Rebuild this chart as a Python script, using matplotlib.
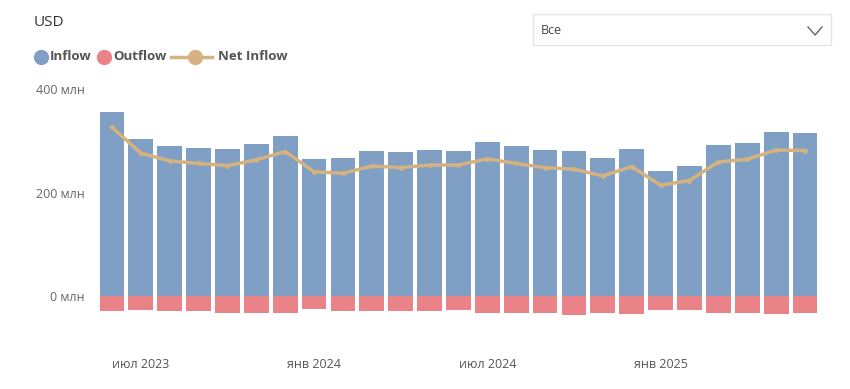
import matplotlib.pyplot as plt
from matplotlib.lines import Line2D
from matplotlib.patches import Rectangle
import numpy as np

# monthly data, jun 2023 .. jun 2025, millions USD
months = ["июн 2023", "июл 2023", "авг 2023", "сен 2023", "окт 2023", "ноя 2023",
          "дек 2023", "янв 2024", "фев 2024", "мар 2024", "апр 2024", "май 2024",
          "июн 2024", "июл 2024", "авг 2024", "сен 2024", "окт 2024", "ноя 2024",
          "дек 2024", "янв 2025", "фев 2025", "мар 2025", "апр 2025", "май 2025",
          "июн 2025"]
inflow = [356, 304, 290, 286, 285, 295, 311, 265, 267, 281, 279, 284, 281,
          298, 291, 284, 281, 267, 285, 242, 252, 292, 296, 318, 316]
outflow = [28, 27, 29, 28, 31, 31, 31, 25, 28, 28, 29, 29, 27,
           32, 31, 32, 35, 32, 34, 27, 27, 31, 31, 34, 32]
net_inflow = [327, 277, 262, 257, 253, 264, 280, 241, 238, 252, 249, 254, 254,
              266, 257, 249, 246, 233, 251, 215, 224, 260, 265, 283, 282]
tick_labels = ["июл 2023", "янв 2024", "июл 2024", "янв 2025"]

c_in = "#7f9fc4"
c_out = "#ea8387"
c_net = "#d5b27f"

plt.rcParams['font.family'] = ['Open Sans', 'DejaVu Sans']

fig = plt.figure(figsize=(8.5, 3.89), dpi=100)
ax = fig.add_axes([0.1147, 0.158, 0.964 - 0.1147, 0.770 - 0.158])

x = np.arange(len(months))
ax.bar(x, inflow, width=0.86, color=c_in, linewidth=0)
ax.bar(x, [-v for v in outflow], width=0.86, color=c_out, linewidth=0)
ax.plot(x, net_inflow, color=c_net, lw=2.5, marker="o", ms=3.5,
        markerfacecolor=c_net, markeredgewidth=0, zorder=3)

ax.set_xlim(-0.5, len(months) - 0.5)
ax.set_ylim(-60, 400)
ax.set_yticks([0, 200, 400])
ax.set_yticklabels(["0 млн", "200 млн", "400 млн"], color="#666666", fontsize=9)
ax.set_xticks([months.index(t) for t in tick_labels])
ax.set_xticklabels(tick_labels, color="#555555", fontsize=9)
ax.tick_params(axis="x", length=0, pad=22)
ax.tick_params(axis="y", length=0, pad=9)
for s in ax.spines.values():
    s.set_visible(False)

# title
fig.text(34 / 850, 1 - 22 / 389, "USD", fontsize=11, color="#333333", va="center")

# legend drawn by hand
ly = 1 - 57 / 389
fig.add_artist(Line2D([41 / 850], [ly], marker="o", ms=10, color=c_in, transform=fig.transFigure))
fig.text(50 / 850, ly, "Inflow", fontsize=9.5, fontweight="bold", color="#555555", va="center")
fig.add_artist(Line2D([104 / 850], [ly], marker="o", ms=10, color=c_out, transform=fig.transFigure))
fig.text(113 / 850, ly, "Outflow", fontsize=9.5, fontweight="bold", color="#555555", va="center")
fig.add_artist(Line2D([171 / 850, 212 / 850], [ly, ly], color=c_net, lw=2.5, transform=fig.transFigure))
fig.add_artist(Line2D([195 / 850], [ly], marker="o", ms=10, color=c_net, transform=fig.transFigure))
fig.text(218 / 850, ly, "Net Inflow", fontsize=9.5, fontweight="bold", color="#555555", va="center")

# dropdown box
fig.add_artist(Rectangle((533 / 850, 1 - 45 / 389), 298 / 850, 31 / 389, transform=fig.transFigure,
                         facecolor="white", edgecolor="#e4e4e4", lw=1))
fig.text(541 / 850, 1 - 31 / 389, "Все", fontsize=9, color="#444444", va="center")
fig.add_artist(Line2D([808 / 850, 815 / 850, 822 / 850],
                      [1 - 27 / 389, 1 - 35 / 389, 1 - 27 / 389],
                      color="#666666", lw=1, transform=fig.transFigure))

fig.savefig("out.png", dpi=100)
